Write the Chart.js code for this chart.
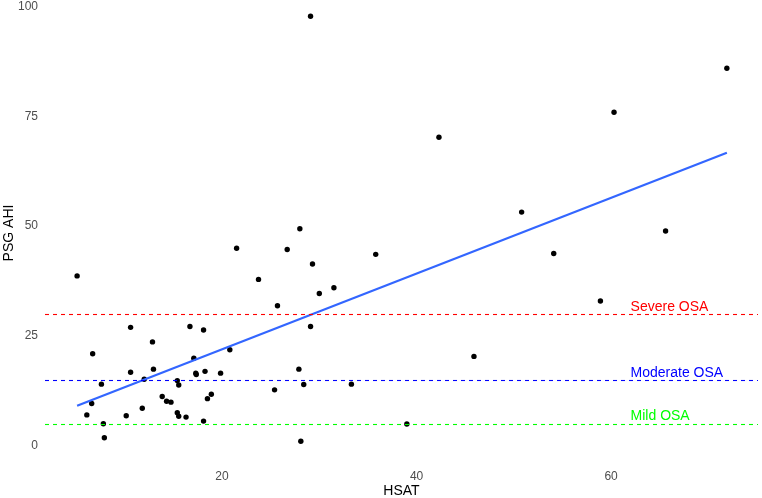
<!DOCTYPE html>
<html>
<head>
<meta charset="utf-8">
<title>PSG AHI vs HSAT</title>
<script src="https://cdn.jsdelivr.net/npm/chart.js@4.4.1/dist/chart.umd.min.js"></script>
<style>
    html, body { margin: 0; padding: 0; background: #fff; }
    canvas { display: block; }
</style>
</head>
<body>
<canvas id="chart" width="762" height="498"></canvas>
<script>
// HSAT / PSG AHI pairs
const hsat = [5.1, 6.1, 6.6, 6.7, 7.6, 7.8, 7.9, 10.15, 10.6, 10.6, 11.8, 12.0, 12.85, 12.95, 13.85, 14.3, 14.75, 15.4, 15.55, 15.4, 15.55, 16.3, 16.7, 18.1, 17.1, 17.3, 17.35, 18.25, 19.85, 18.9, 18.5, 18.1, 20.8, 21.5, 23.75, 25.4, 25.7, 26.7, 27.9, 28.0, 28.1, 28.4, 29.1, 29.1, 29.3, 30.0, 31.5, 33.3, 35.8, 39.0, 42.3, 45.9, 50.8, 54.1, 58.9, 60.3, 65.6, 71.9];
const psgAhi = [38.7, 7.1, 9.7, 21.0, 14.1, 5.1, 1.9, 6.9, 27.0, 16.8, 8.6, 15.2, 23.7, 17.5, 11.3, 10.2, 10.0, 14.9, 13.9, 7.6, 6.8, 6.6, 27.2, 26.4, 20.0, 16.6, 16.3, 17.0, 16.6, 11.8, 10.8, 5.7, 21.9, 45.0, 37.9, 12.8, 31.9, 44.7, 17.5, 49.4, 1.1, 14.0, 97.7, 27.2, 41.4, 34.7, 36.0, 14.1, 43.6, 5.05, 70.2, 20.4, 53.2, 43.8, 33.0, 75.9, 48.9, 85.9];

// ends of the fitted line
const fitX = [5.1, 71.9];
const fitY = [9.2, 66.7];

// severity cut-offs and their labels
const cutValues = [30, 15, 5];
const cutColors = ['#ff0000', '#0000ff', '#00ff00'];
const cutLabels = ['Severe OSA', 'Moderate OSA', 'Mild OSA'];
const cutLabelX = 62;
const cutLabelY = [31.7, 16.6, 6.8];

const xTicks = [20, 40, 60];
const yTicks = [0, 25, 50, 75, 100];

const font = "'Liberation Sans', Arial, sans-serif";

const cutLines = {
    id: 'cutLines',
    afterDatasetsDraw(chart) {
        const { ctx, chartArea, scales } = chart;
        ctx.save();
        ctx.lineWidth = 1.1;
        ctx.setLineDash([4, 4]);
        cutValues.forEach((v, i) => {
            const y = Math.round(scales.y.getPixelForValue(v)) + 0.5;
            ctx.strokeStyle = cutColors[i];
            ctx.beginPath();
            ctx.moveTo(chartArea.left, y);
            ctx.lineTo(chartArea.right, y);
            ctx.stroke();
        });
        ctx.setLineDash([]);
        ctx.font = `14px ${font}`;
        ctx.textAlign = 'left';
        ctx.textBaseline = 'middle';
        cutLabels.forEach((label, i) => {
            ctx.fillStyle = cutColors[i];
            ctx.fillText(label, scales.x.getPixelForValue(cutLabelX), scales.y.getPixelForValue(cutLabelY[i]));
        });
        ctx.restore();
    }
};

new Chart(document.getElementById('chart'), {
    type: 'scatter',
    data: {
        datasets: [{
            data: hsat.map((x, i) => ({ x, y: psgAhi[i] })),
            backgroundColor: '#000',
            borderWidth: 0,
            pointRadius: 2.7,
            order: 2
        }, {
            type: 'line',
            data: fitX.map((x, i) => ({ x, y: fitY[i] })),
            borderColor: '#3366ff',
            borderWidth: 2.2,
            pointRadius: 0,
            fill: false,
            order: 1
        }]
    },
    options: {
        responsive: false,
        animation: false,
        devicePixelRatio: 1,
        layout: {
            padding: { left: 0, right: 2, top: 2, bottom: 0 }
        },
        scales: {
            x: {
                type: 'linear',
                min: 1.8,
                max: 75.1,
                afterBuildTicks: (scale) => { scale.ticks = xTicks.map(value => ({ value })); },
                afterFit: (scale) => {
                    scale.height = 36;
                    scale.paddingLeft = 0;
                    scale.paddingRight = 0;
                },
                grid: { display: false, drawTicks: false },
                border: { display: false },
                ticks: {
                    padding: 7,
                    color: '#4d4d4d',
                    font: { family: font, size: 12 },
                    maxRotation: 0
                },
                title: {
                    display: true,
                    text: 'HSAT',
                    color: '#000',
                    padding: 0,
                    font: { family: font, size: 14, lineHeight: 1 }
                }
            },
            y: {
                type: 'linear',
                min: -3.6,
                max: 100.5,
                afterBuildTicks: (scale) => { scale.ticks = yTicks.map(value => ({ value })); },
                afterFit: (scale) => {
                    scale.width = 45;
                    scale.paddingTop = 0;
                    scale.paddingBottom = 0;
                },
                grid: { display: false, drawTicks: false },
                border: { display: false },
                ticks: {
                    padding: 7,
                    color: '#4d4d4d',
                    font: { family: font, size: 12 }
                },
                title: {
                    display: true,
                    text: 'PSG AHI',
                    color: '#000',
                    padding: { top: 2.5, bottom: 0 },
                    font: { family: font, size: 14, lineHeight: 1 }
                }
            }
        },
        plugins: {
            legend: { display: false },
            tooltip: { enabled: false }
        }
    },
    plugins: [cutLines]
});
</script>
</body>
</html>
